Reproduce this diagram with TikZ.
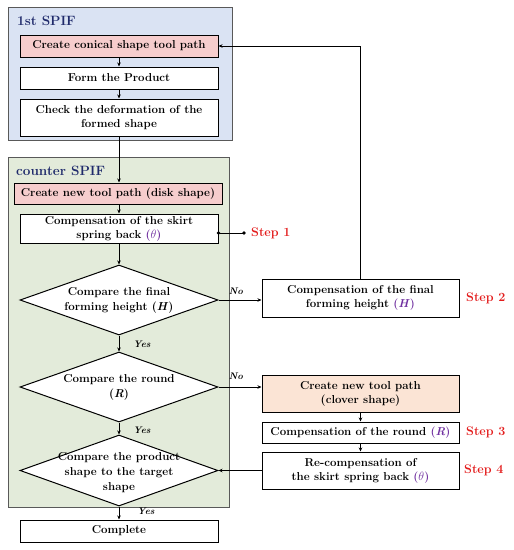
\documentclass[tikz,border=0pt]{standalone}
\usetikzlibrary{arrows.meta,shapes.geometric}
\definecolor{bluebg}{HTML}{DAE3F3}
\definecolor{greenbg}{HTML}{E3EBDA}
\definecolor{pinkbox}{HTML}{F6CDCD}
\definecolor{peachbox}{HTML}{FBE4D5}
\definecolor{navy}{HTML}{1F2A6B}
\definecolor{stepred}{HTML}{E31C1C}
\definecolor{varpurple}{HTML}{7030A0}
\newcommand{\vp}[1]{\textcolor{varpurple}{(\textit{#1})}}
\tikzset{
  region/.style={draw=black!65, line width=0.8pt, inner sep=0pt},
  pbox/.style={draw=black, line width=1pt, fill=white, minimum width=198pt, inner sep=0pt, align=center, font=\fontsize{11.5}{14}\selectfont\bfseries},
  dia/.style={draw=black, line width=1pt, fill=white, diamond, minimum width=198pt, minimum height=70pt, inner sep=0pt},
  dtext/.style={align=center, font=\fontsize{11.5}{15}\selectfont\bfseries},
  title/.style={anchor=west, text=navy, font=\fontsize{13.5}{16}\selectfont\bfseries, inner sep=0pt},
  steplbl/.style={anchor=west, text=stepred, font=\fontsize{12.5}{15}\selectfont\bfseries, inner sep=0pt},
  yn/.style={font=\fontsize{9.5}{12}\selectfont\bfseries\itshape, inner sep=0pt},
  arr/.style={-{Stealth[length=4pt,width=3.5pt]}, line width=0.7pt},
  dotline/.style={line width=0.7pt}
}
\begin{document}
\begin{tikzpicture}[x=1pt,y=-1pt]
\useasboundingbox (0,0) rectangle (514,550);
% regions
\node[region, fill=bluebg, minimum width=224pt, minimum height=133pt] (reg1) at (120,73.5) {};
\node[region, fill=greenbg, minimum width=221pt, minimum height=350pt] (reg2) at (118.5,332) {};
\node[title] (t1) at (17,21) {1st SPIF};
\node[title] (t2) at (16,171) {counter SPIF};
% left column
\node[pbox, fill=pinkbox, minimum height=22pt] (b1) at (119,46) {Create conical shape tool path};
\node[pbox, minimum height=22pt] (b2) at (119,78) {Form the Product};
\node[pbox, minimum height=37pt] (b3) at (119,117.5) {Check the deformation of the\\formed shape};
\node[pbox, fill=pinkbox, minimum width=208pt, minimum height=21pt] (c1) at (118,193.5) {Create new tool path (disk shape)};
\node[pbox, minimum height=29pt] (c2) at (119,228.5) {Compensation of the skirt\\spring back \vp{$\theta$}};
\node[dia] (d1) at (119,300) {};
\node[dtext] (d1t) at (119,300) {Compare the final\\forming height (\textit{H})};
\node[dia] (d2) at (119,387) {};
\node[dtext] (d2t) at (119,387) {Compare the round\\(\textit{R})};
\node[dia, minimum height=71pt] (d3) at (119,470.5) {};
\node[dtext] (d3t) at (119,473) {Compare the product\\shape to the target\\shape};
\node[pbox, minimum height=22pt] (comp) at (119,531) {Complete};
% right column
\node[pbox, minimum width=197pt, minimum height=38pt] (r1) at (360.5,298) {Compensation of the final\\forming height \vp{H}};
\node[pbox, fill=peachbox, minimum width=197pt, minimum height=37pt] (r2) at (360.5,393.5) {Create new tool path\\(clover shape)};
\node[pbox, minimum width=197pt, minimum height=21pt] (r3) at (360.5,432.5) {Compensation of the round \vp{R}};
\node[pbox, minimum width=197pt, minimum height=37pt] (r4) at (360.5,470.5) {Re-compensation of\\the skirt spring back \vp{$\theta$}};
% step labels
\coordinate (s1) at (244,233);
\coordinate (s0) at (c2.east |- s1);
\node[steplbl] (st1) at (251,233) {Step 1};
\node[steplbl] (st2) at (466,298) {Step 2};
\node[steplbl] (st3) at (466,432) {Step 3};
\node[steplbl] (st4) at (464,470) {Step 4};
% connectors
\draw[arr] (b1) -- (b2);
\draw[arr] (b2) -- (b3);
\draw[arr] (b3.south) -- (b3.south |- c1.north);
\draw[arr] (c1.south -| c2.north) -- (c2.north);
\draw[arr] (c2) -- (d1);
\draw[arr] (d1) -- (d2);
\draw[arr] (d2) -- (d3);
\draw[arr] (d3) -- (comp);
\draw[dotline] (s0) -- (s1);
\fill (s0) circle (1.8pt);
\fill (s1) circle (1.8pt);
\draw[arr] (d1.east) -- (r1.west |- d1.east);
\draw[arr] (d2.east) -- (r2.west |- d2.east);
\draw[arr] (r2) -- (r3);
\draw[arr] (r3) -- (r4);
\draw[arr] (r4.west) -- (d3.east |- r4.west);
\draw[arr] (r1.north) |- (b1.east);
% yes/no labels
\node[yn] (y1) at (142,344) {Yes};
\node[yn] (y2) at (142,430) {Yes};
\node[yn] (y3) at (146,511) {Yes};
\node[yn] (n1) at (236,291) {No};
\node[yn] (n2) at (236,376) {No};
\end{tikzpicture}
\end{document}
